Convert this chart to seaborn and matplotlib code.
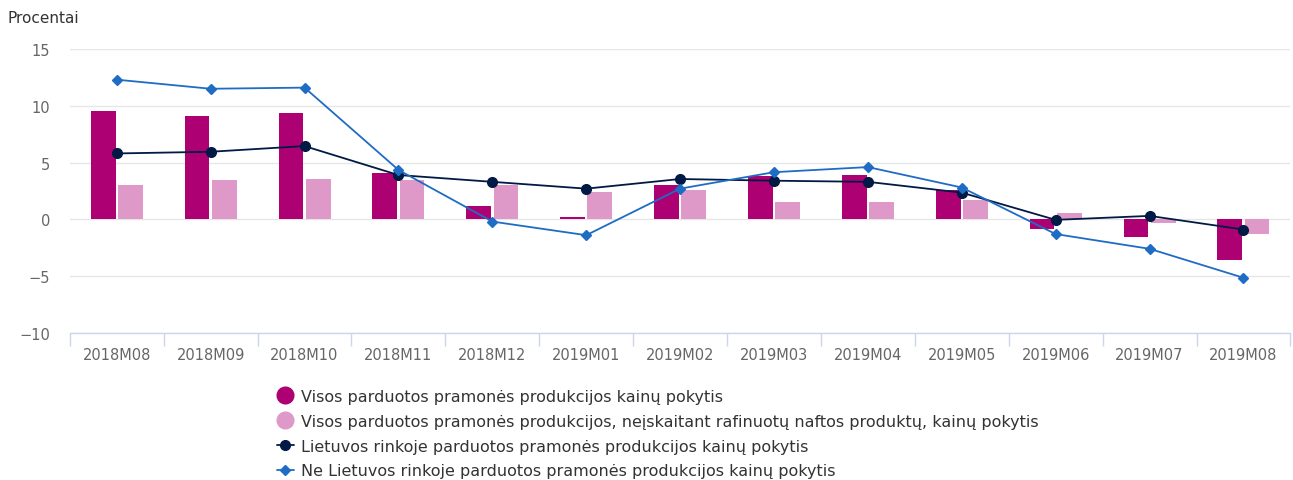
import pandas as pd
import numpy as np
import seaborn as sns
import matplotlib.pyplot as plt
from matplotlib.lines import Line2D

# Duomenys (nuskaityta nuo grafiko)
menesiai = ['2018M08', '2018M09', '2018M10', '2018M11', '2018M12', '2019M01', '2019M02',
            '2019M03', '2019M04', '2019M05', '2019M06', '2019M07', '2019M08']
visos = [9.5, 9.1, 9.4, 4.1, 1.15, 0.2, 3.0, 3.85, 3.9, 2.6, -0.85, -1.6, -3.6]
be_naftos = [3.0, 3.45, 3.55, 3.5, 3.0, 2.4, 2.6, 1.55, 1.55, 1.7, 0.55, -0.35, -1.3]
lietuvos = [5.8, 5.95, 6.45, 3.9, 3.3, 2.7, 3.55, 3.4, 3.3, 2.35, -0.05, 0.3, -0.9]
ne_lietuvos = [12.3, 11.5, 11.6, 4.35, -0.2, -1.4, 2.7, 4.15, 4.6, 2.8, -1.3, -2.6, -5.15]

pav_visos = 'Visos parduotos pramonės produkcijos kainų pokytis'
pav_be_naftos = 'Visos parduotos pramonės produkcijos, neįskaitant rafinuotų naftos produktų, kainų pokytis'
pav_lt = 'Lietuvos rinkoje parduotos pramonės produkcijos kainų pokytis'
pav_ne_lt = 'Ne Lietuvos rinkoje parduotos pramonės produkcijos kainų pokytis'

spalvos = {pav_visos: '#ad0072', pav_be_naftos: '#de99c8'}
sp_lt = '#001a45'
sp_ne_lt = '#1f6cc4'

stulpeliai = pd.DataFrame({
    'menuo': menesiai * 2,
    'reiksme': visos + be_naftos,
    'serija': [pav_visos] * len(menesiai) + [pav_be_naftos] * len(menesiai),
})

sns.set_style('white')
plt.rcParams['font.family'] = ['DejaVu Sans']

fig = plt.figure(figsize=(12.93, 4.81), dpi=100)
ax = fig.add_axes([0.054, 0.306, 0.944, 0.590])

sns.barplot(data=stulpeliai, x='menuo', y='reiksme', hue='serija', palette=spalvos,
            width=0.58, gap=0.09, saturation=1, linewidth=0, ax=ax, legend=False,
            errorbar=None)

sns.pointplot(x=menesiai, y=lietuvos, color=sp_lt, markers='o', linestyles='-',
              markersize=7, linewidth=1.3, ax=ax, zorder=4)
sns.pointplot(x=menesiai, y=ne_lietuvos, color=sp_ne_lt, markers='D', linestyles='-',
              markersize=5, linewidth=1.3, ax=ax, zorder=5)

ax.set_ylim(-10, 15)
ax.set_xlim(-0.5, len(menesiai) - 0.5)
ax.set_yticks([-10, -5, 0, 5, 10, 15])
ax.set_yticklabels(['\u221210', '\u22125', '0', '5', '10', '15'])
ax.grid(axis='y', color='#e6e6e6', linewidth=1)
ax.set_axisbelow(True)
ax.set_xlabel('')
ax.set_ylabel('')

for s in ['top', 'right', 'left']:
    ax.spines[s].set_visible(False)
ax.spines['bottom'].set_color('#ccd6eb')
ax.spines['bottom'].set_linewidth(1)

ax.tick_params(axis='y', length=0, pad=14, labelsize=10.5, labelcolor='#666666')
ax.tick_params(axis='x', which='major', length=0, pad=10, labelsize=10.5, labelcolor='#666666')
ax.set_xticks(np.arange(-0.5, len(menesiai), 1.0), minor=True)
ax.tick_params(axis='x', which='minor', bottom=True, direction='out', length=9,
               color='#ccd6eb', width=1)

fig.text(0.006, 0.962, 'Procentai', fontsize=11, color='#333333', ha='left', va='center')

rankenos = [
    Line2D([0], [0], marker='o', color='none', markerfacecolor=spalvos[pav_visos],
           markeredgecolor=spalvos[pav_visos], markersize=12),
    Line2D([0], [0], marker='o', color='none', markerfacecolor=spalvos[pav_be_naftos],
           markeredgecolor=spalvos[pav_be_naftos], markersize=12),
    Line2D([0], [0], marker='o', color=sp_lt, markersize=7, linewidth=1.3),
    Line2D([0], [0], marker='D', color=sp_ne_lt, markersize=5, linewidth=1.3),
]
fig.legend(rankenos, [pav_visos, pav_be_naftos, pav_lt, pav_ne_lt],
           loc='upper left', bbox_to_anchor=(0.209, 0.203), frameon=False,
           fontsize=11.5, handlelength=1.1, handletextpad=0.4, labelspacing=0.62,
           borderaxespad=0, labelcolor='#333333')

plt.savefig('out.png', dpi=100)
